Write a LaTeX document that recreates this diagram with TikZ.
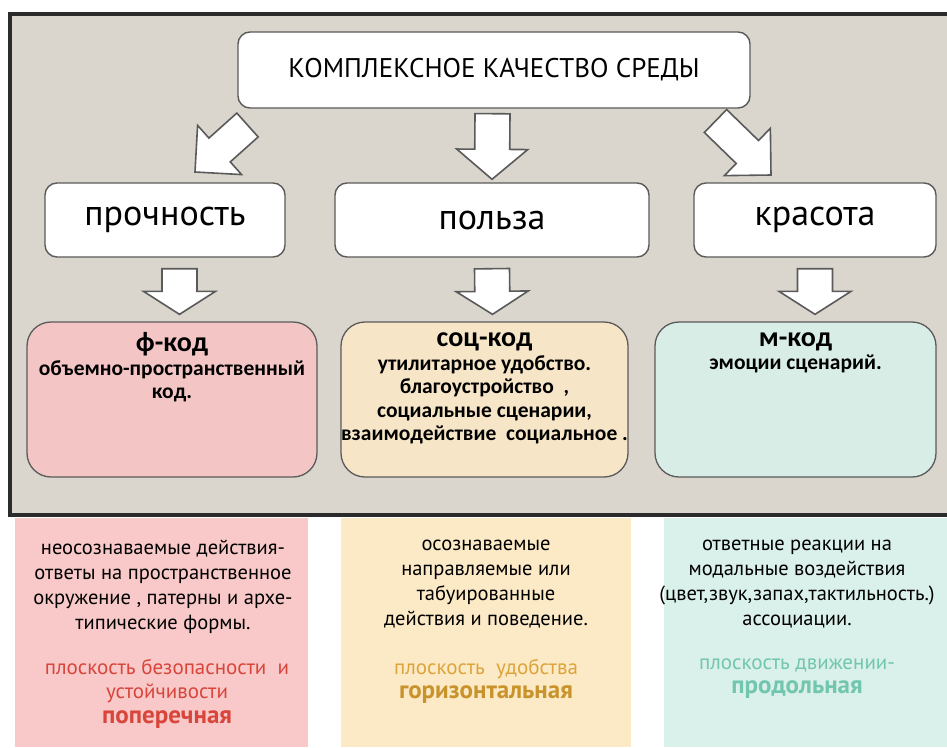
\documentclass[tikz,border=0pt]{standalone}
\usepackage{fontspec}
\setmainfont{PT Sans}
\newfontfamily\codefont{Carlito}
\usetikzlibrary{calc, positioning}

\definecolor{framebg}{HTML}{DAD6CE}
\definecolor{framedark}{HTML}{2B2B2B}
\definecolor{boxline}{HTML}{5A5A5A}
\definecolor{fpink}{HTML}{F3C6C5}
\definecolor{sbeige}{HTML}{F6E6C7}
\definecolor{mcyan}{HTML}{D9EDE7}
\definecolor{panelpink}{HTML}{F8C9C8}
\definecolor{panelyellow}{HTML}{FCE9C6}
\definecolor{panelcyan}{HTML}{DAF0EA}
\definecolor{redtext}{HTML}{D8453B}
\definecolor{orangetext}{HTML}{DDA43A}
\definecolor{orangedark}{HTML}{C9932B}
\definecolor{tealtext}{HTML}{72C6AE}

% block arrow: tail, tip, half shaft, half head, head length
\newcommand{\blockarrow}[5]{%
  \coordinate (ba-base) at ($(#2)!#5!(#1)$);
  \draw[arrowbox] ($(#1)!#3!90:(#2)$) -- ($(ba-base)!#3!-90:(#1)$)
    -- ($(ba-base)!#4!-90:(#1)$) -- (#2) -- ($(ba-base)!#4!90:(#1)$)
    -- ($(ba-base)!#3!90:(#1)$) -- ($(#1)!#3!-90:(#2)$) -- cycle;}

\begin{document}
\begin{tikzpicture}[
  x=1pt, y=-1pt,
  topbox/.style={rectangle, rounded corners=12pt, draw=boxline, line width=1.4pt, fill=white,
    minimum width=512pt, minimum height=76pt, font=\fontsize{27}{30}\selectfont},
  qualbox/.style={rectangle, rounded corners=12pt, draw=boxline, line width=1.4pt, fill=white,
    minimum height=74pt, font=\fontsize{36}{38}\selectfont},
  codebox/.style={rectangle, rounded corners=24pt, draw=boxline, line width=1.3pt,
    minimum height=155pt},
  codehead/.style={inner sep=0pt, font=\codefont\bfseries\fontsize{28}{30}\selectfont},
  codetext/.style={inner sep=0pt, align=center, font=\codefont\bfseries\fontsize{21.5}{23.5}\selectfont},
  panel/.style={rectangle, inner sep=0pt, minimum height=229pt},
  paneltext/.style={inner sep=0pt, align=center, text=black, font=\fontsize{20.5}{25}\selectfont},
  planetext/.style={inner sep=0pt, align=center, font=\fontsize{21}{24}\selectfont},
  arrowbox/.style={draw=boxline, fill=white, line width=1.6pt, line join=miter}
]
\useasboundingbox (0,0) rectangle (947,747);

% dark frame with grey background
\draw[line width=4pt, draw=framedark, fill=framebg] (10,14) rectangle (970,515);

% top and quality boxes
\node[topbox] (top) at (494,70) {КОМПЛЕКСНОЕ КАЧЕСТВО СРЕДЫ};
\node[qualbox, minimum width=240pt] (strength) at (165,220) {прочность};
\node[qualbox, minimum width=314pt] (benefit) at (492,220) {польза};
\node[qualbox, minimum width=242pt] (beauty) at (815,220) {красота};

% code boxes
\node[codebox, fill=fpink, minimum width=290pt] (fcode) at (172,399.5) {};
\node[codebox, fill=sbeige, minimum width=287pt] (soccode) at (484.5,399.5) {};
\node[codebox, fill=mcyan, minimum width=281pt] (mcode) at (795.5,399.5) {};

\node[codehead, below=11pt of fcode.north] (fcodeh) {ф-код};
\node[codehead, below=11pt of soccode.north] (soccodeh) {соц-код};
\node[codehead, below=11pt of mcode.north] (mcodeh) {м-код};
\node[codetext, below=4pt of fcodeh] (fcodeb) {объемно-пространственный\\код.};
\node[codetext, below=4pt of soccodeh] (soccodeb)
  {утилитарное удобство.\\благоустройство~~,\\социальные сценарии,\\взаимодействие~ социальное .};
\node[codetext, below=4pt of mcodeh] (mcodeb) {эмоции сценарий.};

% arrows
\coordinate (a1s) at (247.5,125);
\coordinate (a1e) at (195,172);
\coordinate (a2s) at ($(top.south)+(-1.5,5)$);
\coordinate (a2e) at ($(benefit.north)+(0,-3)$);
\coordinate (a3s) at (715.5,121);
\coordinate (a3e) at (771,175);
\blockarrow{a1s}{a1e}{16pt}{33pt}{33pt}
\blockarrow{a2s}{a2e}{17.5pt}{35.5pt}{30pt}
\blockarrow{a3s}{a3e}{16pt}{33pt}{33pt}

\coordinate (b1s) at ($(strength.south)+(14.5,11)$);
\coordinate (b1e) at ($(fcode.north)+(7.5,-7)$);
\coordinate (b2s) at ($(benefit.south)+(0,11)$);
\coordinate (b2e) at ($(soccode.north)+(8,-7)$);
\coordinate (b3s) at ($(beauty.south)+(0,11)$);
\coordinate (b3e) at ($(mcode.north)+(19.5,-7)$);
\blockarrow{b1s}{b1e}{17.5pt}{36pt}{23pt}
\blockarrow{b2s}{b2e}{17.5pt}{36pt}{23pt}
\blockarrow{b3s}{b3e}{17.5pt}{36pt}{23pt}

% panels below the frame
\node[panel, fill=panelpink, minimum width=293pt] (ppink) at (161.5,632.5) {};
\node[panel, fill=panelyellow, minimum width=290pt] (pyellow) at (486,632.5) {};
\node[panel, fill=panelcyan, minimum width=283pt] (pcyan) at (805.5,632.5) {};

\node[paneltext, anchor=north] (ppinkt) at (163,540)
  {неосознаваемые действия-\\ответы на пространственное\\окружение , патерны и архе-\\типические формы.};
\node[planetext, text=redtext, anchor=north] (ppinkp) at (167,659)
  {плоскость безопасности~ и\\устойчивости\\[1pt]{\fontsize{25}{27}\selectfont\bfseries поперечная}};

\node[paneltext, anchor=north] (pyellowt) at (486,540)
  {осознаваемые\\направляемые или\\табуированные\\действия и поведение.};
\node[planetext, anchor=north] (pyellowp) at (486,659)
  {\textcolor{orangetext}{плоскость~ удобства}\\
   {\fontsize{25}{27}\selectfont\bfseries\color{orangedark}горизонтальная}};

\node[paneltext, anchor=north] (pcyant) at (797,540)
  {ответные реакции на\\модальные воздействия\\(цвет,звук,запах,тактильность.)\\ассоциации.};
\node[planetext, text=tealtext, anchor=north] (pcyanp) at (797,659)
  {плоскость движении-\\{\fontsize{25}{27}\selectfont\bfseries продольная}};
\end{tikzpicture}
\end{document}
